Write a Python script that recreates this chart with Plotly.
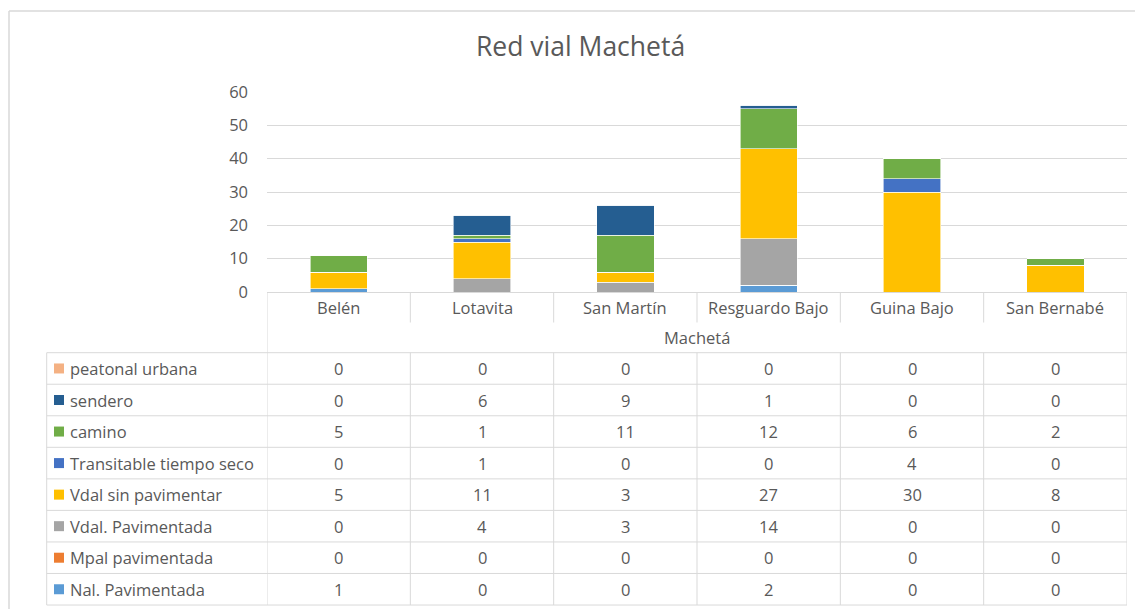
import plotly.graph_objects as go

categories = ["Belén", "Lotavita", "San Martín", "Resguardo Bajo", "Guina Bajo", "San Bernabé"]
group_label = "Machetá"
title = "Red vial Machetá"

# series (bottom -> top of stack)
nal_pavimentada = [1, 0, 0, 2, 0, 0]
mpal_pavimentada = [0, 0, 0, 0, 0, 0]
vdal_pavimentada = [0, 4, 3, 14, 0, 0]
vdal_sin_pavimentar = [5, 11, 3, 27, 30, 8]
transitable_tiempo_seco = [0, 1, 0, 0, 4, 0]
camino = [5, 1, 11, 12, 6, 2]
sendero = [0, 6, 9, 1, 0, 0]
peatonal_urbana = [0, 0, 0, 0, 0, 0]

series_names = ["Nal. Pavimentada", "Mpal pavimentada", "Vdal. Pavimentada", "Vdal sin pavimentar",
                "Transitable tiempo seco", "camino", "sendero", "peatonal urbana"]
series_values = [nal_pavimentada, mpal_pavimentada, vdal_pavimentada, vdal_sin_pavimentar,
                 transitable_tiempo_seco, camino, sendero, peatonal_urbana]
series_colors = ["#5B9BD5", "#ED7D31", "#A5A5A5", "#FFC000",
                 "#4472C4", "#70AD47", "#255E91", "#F4B183"]

y_ticks = [0, 10, 20, 30, 40, 50, 60]

W, H = 1135, 609
FONT = "'Open Sans', Lato, sans-serif"
TXT = "#595959"
GRID = "#D9D9D9"

def px(x):
    return x / W

def py(y):
    return 1 - y / H

X0, X1 = 267, 1127
Y0, YTOP = 292, 92

fig = go.Figure()
for name, vals, col in zip(series_names, series_values, series_colors):
    fig.add_trace(go.Bar(x=categories, y=vals, name=name, marker_color=col,
                         marker_line=dict(color="white", width=0.6), width=0.4))

shapes = []
annotations = []

def hline(y, xa, xb, width=1, color=GRID):
    shapes.append(dict(type="line", xref="paper", yref="paper", x0=px(xa), x1=px(xb),
                       y0=py(y), y1=py(y), line=dict(color=color, width=width)))

def vline_x(xv, ya, yb):
    shapes.append(dict(type="line", xref="x", yref="paper", x0=xv, x1=xv,
                       y0=py(ya), y1=py(yb), line=dict(color=GRID, width=1)))

# outer chart border
shapes.append(dict(type="line", xref="paper", yref="paper", x0=px(9), x1=px(9), y0=py(11), y1=0,
                   line=dict(color=GRID, width=1.5)))
shapes.append(dict(type="line", xref="paper", yref="paper", x0=px(9), x1=1, y0=py(11), y1=py(11),
                   line=dict(color=GRID, width=1.5)))

# table geometry
row_top = 352.7
row_h = 31.54
n_rows = len(series_names)
table_left = 46.7

# category row dividers
for i in range(len(categories) + 1):
    xv = i - 0.5
    if i == 0 or i == len(categories):
        vline_x(xv, Y0, row_top + n_rows * row_h)
    else:
        vline_x(xv, Y0, 322.5)
        vline_x(xv, row_top, row_top + n_rows * row_h)

# horizontal table lines
for r in range(n_rows + 1):
    hline(row_top + r * row_h, table_left, X1)
# left table edge
shapes.append(dict(type="line", xref="paper", yref="paper", x0=px(table_left), x1=px(table_left),
                   y0=py(row_top), y1=py(row_top + n_rows * row_h), line=dict(color=GRID, width=1)))

FS = 16.5
# category labels
for c in categories:
    annotations.append(dict(x=c, xref="x", y=py(307), yref="paper", text=c, showarrow=False,
                            font=dict(family=FONT, size=FS, color=TXT), xanchor="center", yanchor="middle"))
annotations.append(dict(x=px((X0 + X1) / 2), xref="paper", y=py(337.5), yref="paper", text=group_label,
                        showarrow=False, font=dict(family=FONT, size=FS, color=TXT),
                        xanchor="center", yanchor="middle"))

# table rows (top -> bottom is reverse of stacking)
for r, idx in enumerate(reversed(range(n_rows))):
    yc = row_top + r * row_h + row_h / 2
    name = series_names[idx]
    col = series_colors[idx]
    shapes.append(dict(type="rect", xref="paper", yref="paper", x0=px(54), x1=px(64),
                       y0=py(yc - 5), y1=py(yc + 5), fillcolor=col, line=dict(width=0)))
    annotations.append(dict(x=px(68), xref="paper", y=py(yc), yref="paper", text=name, showarrow=False,
                            font=dict(family=FONT, size=FS, color=TXT), xanchor="left", yanchor="middle"))
    for ci, c in enumerate(categories):
        annotations.append(dict(x=c, xref="x", y=py(yc), yref="paper", text=str(series_values[idx][ci]),
                                showarrow=False, font=dict(family=FONT, size=FS, color=TXT),
                                xanchor="center", yanchor="middle"))

# title
annotations.append(dict(x=px(580), xref="paper", y=py(46), yref="paper", text=title, showarrow=False,
                        font=dict(family=FONT, size=26.5, color=TXT), xanchor="center", yanchor="middle"))

fig.update_layout(
    width=W, height=H, margin=dict(l=0, r=0, t=0, b=0, autoexpand=False),
    paper_bgcolor="white", plot_bgcolor="white",
    barmode="stack", showlegend=False,
    xaxis=dict(domain=[px(X0), px(X1)], showticklabels=False, showgrid=False, zeroline=False,
               showline=True, linecolor=GRID, linewidth=1, range=[-0.5, 5.5], ticks=""),
    yaxis=dict(domain=[py(Y0), py(YTOP)], range=[0, 60], tickvals=y_ticks, showgrid=True,
               gridcolor=GRID, gridwidth=1, zeroline=False, showline=False, ticks="",
               ticklabelstandoff=18, tickfont=dict(family=FONT, size=FS, color=TXT)),
    shapes=shapes, annotations=annotations,
)

fig.write_html("out.html", config={"displayModeBar": False},
               post_script="document.documentElement.style.margin='0';document.body.style.margin='0';"
                           "document.body.style.padding='0';document.body.style.overflow='hidden';")
